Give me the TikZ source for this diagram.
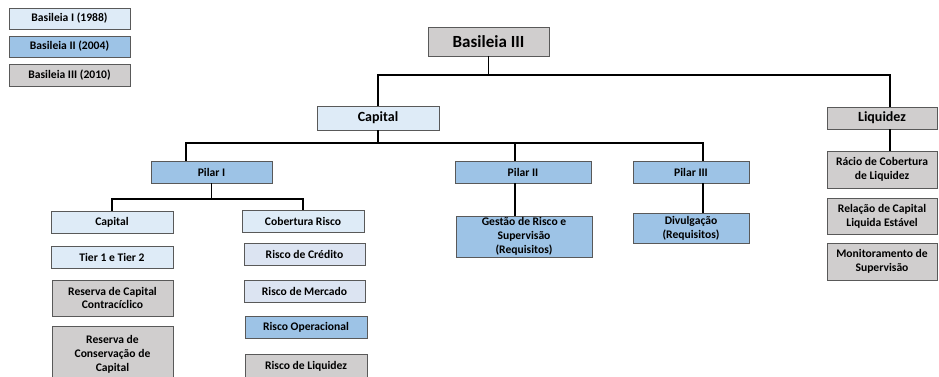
\documentclass[tikz,border=0pt]{standalone}
\usepackage{fontspec}
\setmainfont{Carlito}
\usetikzlibrary{calc}
\definecolor{lblue}{HTML}{DEEBF7}
\definecolor{lblue2}{HTML}{DCE4F2}
\definecolor{mblue}{HTML}{9DC3E6}
\definecolor{lgray}{HTML}{D0CECE}
\definecolor{bcol}{HTML}{595959}
\tikzset{
  box/.style={draw=bcol, line width=0.9pt, inner xsep=0pt, inner ysep=1pt, align=center,
    font=\fontsize{11.6}{13.8}\selectfont\bfseries},
  bigbox/.style={box, font=\fontsize{14}{16}\selectfont\bfseries},
  titlebox/.style={box, font=\fontsize{17}{19}\selectfont\bfseries},
  conn/.style={draw=black, line width=1.3pt},
}
\begin{document}
\begin{tikzpicture}[x=1pt,y=-1pt]
\useasboundingbox (0,0) rectangle (939,376);
\clip (0,0) rectangle (939,376);
\fill[white] (0,0) rectangle (939,376);
% legend
\node[box, fill=lblue, minimum width=121, minimum height=21] (l1) at (69.5,18.5) {Basileia I (1988)};
\node[box, fill=mblue, minimum width=121, minimum height=21] (l2) at (69.5,46.5) {Basileia II (2004)};
\node[box, fill=lgray, minimum width=121, minimum height=22] (l3) at (69.5,75) {Basileia III (2010)};
% top
\node[titlebox, fill=lgray, minimum width=121, minimum height=29] (b3) at (488.5,41.5) {Basileia III};
\node[bigbox, fill=lblue, minimum width=122, minimum height=24] (cap) at (378,118) {Capital};
\node[bigbox, fill=lgray, minimum width=110, minimum height=22] (liq) at (882,118) {Liquidez};
% pillars
\node[box, fill=mblue, minimum width=121, minimum height=22] (p1) at (211.5,172) {Pilar I};
\node[box, fill=mblue, minimum width=136, minimum height=22] (p2) at (523,172) {Pilar II};
\node[box, fill=mblue, minimum width=116, minimum height=22] (p3) at (691,172) {Pilar III};
% pilar I children
\node[box, fill=lblue, minimum width=122, minimum height=22] (c2) at (112,222) {Capital};
\node[box, fill=lblue, minimum width=122, minimum height=22] (tier) at (112,257) {Tier 1 e Tier 2};
\node[box, fill=lgray, minimum width=121, minimum height=36] (rcc) at (112.5,298) {Reserva de Capital\\Contracíclico};
\node[box, fill=lgray, minimum width=121, minimum height=56, anchor=north] (rcon) at (112.5,326) {Reserva de\\Conservação de\\Capital};
\node[box, fill=lblue, minimum width=122, minimum height=22] (cob) at (303,221) {Cobertura Risco};
\node[box, fill=lblue2, minimum width=121, minimum height=22] (rcr) at (304.5,254) {Risco de Crédito};
\node[box, fill=lblue2, minimum width=121, minimum height=22] (rme) at (304.5,291) {Risco de Mercado};
\node[box, fill=mblue, minimum width=122, minimum height=22] (rop) at (306,327) {Risco Operacional};
\node[box, fill=lgray, minimum width=122, minimum height=24] (rli) at (306,366) {Risco de Liquidez};
% pilar II / III children
\node[box, fill=mblue, minimum width=136, minimum height=41] (ges) at (524,236.5) {Gestão de Risco e\\Supervisão\\(Requisitos)};
\node[box, fill=mblue, minimum width=116, minimum height=30] (div) at (691,228) {Divulgação\\(Requisitos)};
% liquidez children
\node[box, fill=lgray, minimum width=110, minimum height=37] (rac) at (882,169.5) {Rácio de Cobertura\\de Liquidez};
\node[box, fill=lgray, minimum width=110, minimum height=36] (rel) at (882,216) {Relação de Capital\\Liquida Estável};
\node[box, fill=lgray, minimum width=110, minimum height=37] (mon) at (882,261.5) {Monitoramento de\\Supervisão};
% helper coordinates
\coordinate (tb) at (0,75);
\coordinate (pb) at (0,143);
\coordinate (p1b) at (0,199);
\coordinate (liqt) at ($(liq.north)+(8,0)$);
\coordinate (p1t) at ($(p1.north)+(-25.5,0)$);
\coordinate (p2t) at ($(p2.north)+(-8,0)$);
\coordinate (p3t) at ($(p3.north)+(12,0)$);
% connectors
\draw[conn] (b3.south) -- (b3.south |- tb);
\draw[conn] (cap.north) |- (liqt |- tb) -- (liqt);
\draw[conn] (cap.south) -- (cap.south |- pb);
\draw[conn] (p1t) |- (p3t |- pb) -- (p3t);
\draw[conn] (p2t) -- (p2t |- pb);
\draw[conn] (p2.south -| p2t) -- (ges.north -| p2t);
\draw[conn] (p3.south -| p3t) -- (div.north -| p3t);
\draw[conn] (liq.south -| liqt) -- (rac.north -| liqt);
\draw[conn] (p1.south) -- (p1.south |- p1b);
\draw[conn] (c2.north) |- (cob.north |- p1b) -- (cob.north);
\end{tikzpicture}
\end{document}
